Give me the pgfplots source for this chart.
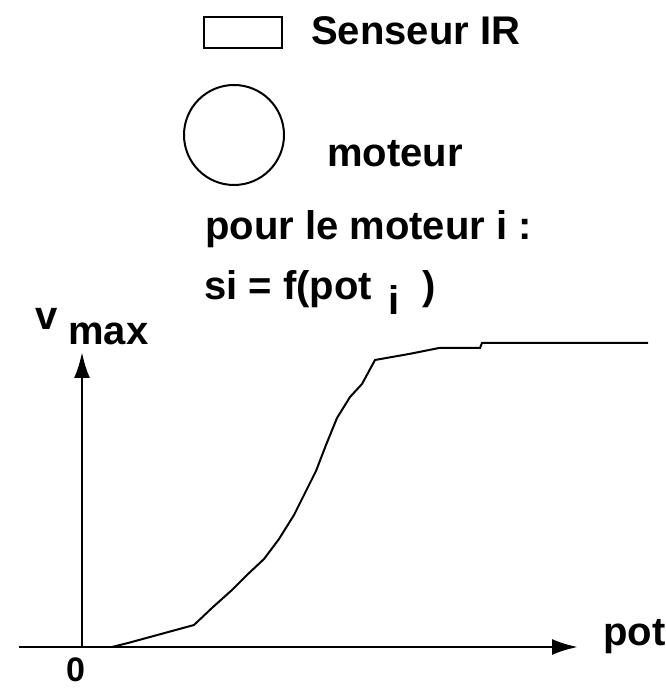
\documentclass[border=0pt]{standalone}
\usepackage{fontspec}
\setmainfont{Liberation Sans}
\usepackage{pgfplots}
\usepackage{pgfplotstable}
\pgfplotsset{compat=1.18}
\usetikzlibrary{arrows.meta}
\pgfplotstableread{
x y
30 0
46 4
112 22
131 40
150 57
165 72
182 88
197 108
212 132
223 154
234 176
244 202
255 229
268 250
280 263
293 287
327 293
357 299
398 299
400 304
566 304
}\curvedata
\begin{document}
\begin{tikzpicture}[every node/.style={font=\fontsize{40}{48}\selectfont\bfseries, inner sep=0pt}]
\begin{axis}[
  x=1pt, y=1pt,
  xmin=-63, xmax=496, ymin=0, ymax=295,
  axis lines=middle,
  every inner x axis line/.append style={line width=2.8pt, -{Latex[length=26pt,width=16pt]}},
  every inner y axis line/.append style={line width=2.8pt, -{Latex[length=26pt,width=16pt]}},
  ticks=none,
  clip=false,
]
\addplot[black, line width=2pt, no marks] table {\curvedata};
\draw[line width=2pt] (axis cs:122,599) rectangle (axis cs:200,630);
\node[anchor=base west] at (axis cs:229,602) {Senseur IR};
\node[circle, draw, line width=2pt, minimum size=100pt] at (axis cs:152,512) {};
\node[anchor=base west] at (axis cs:245,480) {moteur};
\node[anchor=base west] at (axis cs:123,407) {pour le moteur i :};
\node[anchor=base west] at (axis cs:122,347) {si = f(pot};
\node[anchor=base west] at (axis cs:306,332) {i};
\node[anchor=base west] at (axis cs:340,347) {)};
\node[anchor=base west] at (axis cs:-47,317) {v};
\node[anchor=base west] at (axis cs:-14,302) {max};
\node[anchor=base west] at (axis cs:521,2) {pot};
\node[anchor=base west, font=\fontsize{34}{40}\selectfont\bfseries] at (axis cs:-16,-34) {0};
\coordinate (BL) at (axis cs:-82,-44);
\coordinate (TR) at (axis cs:583,647);
\end{axis}
\pgfresetboundingbox
\path[use as bounding box] (BL) rectangle (TR);
\end{tikzpicture}
\end{document}
